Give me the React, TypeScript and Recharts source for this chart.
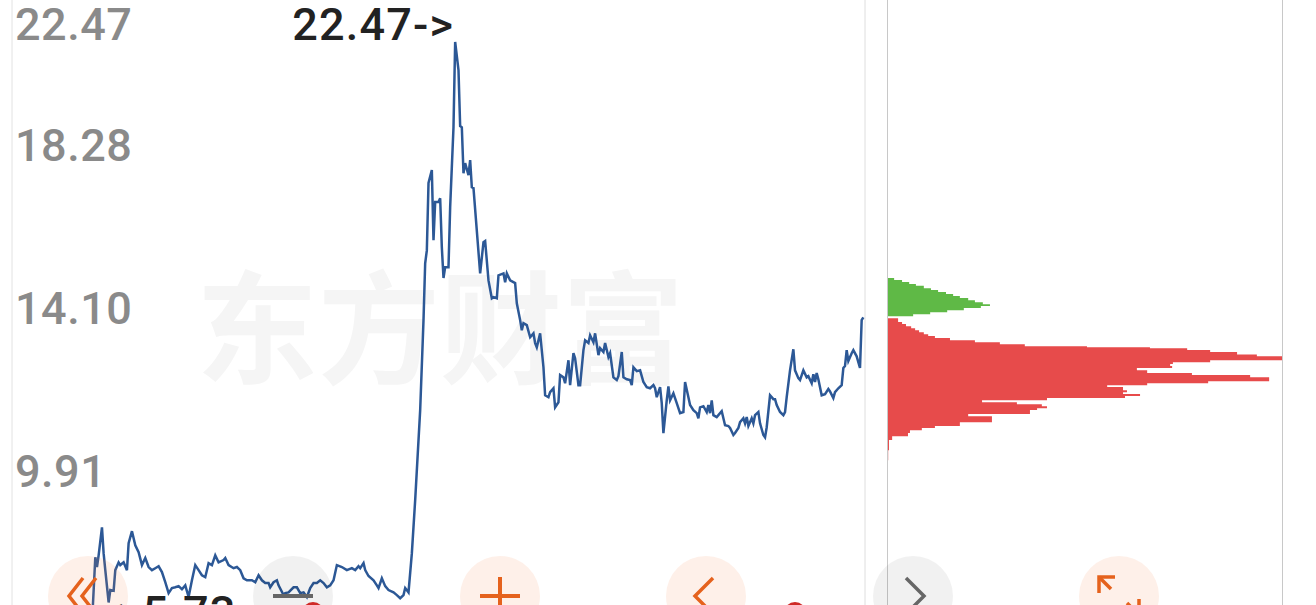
import React from 'react';
import {
  LineChart,
  Line,
  XAxis,
  YAxis,
  CartesianGrid,
  ReferenceLine,
  ReferenceDot,
  AreaChart,
  Area,
} from 'recharts';

// ---------- price line (trading-day number, close) ----------
const days = [
  0, 2, 3, 4, 6, 7, 8, 10, 11, 13, 14, 16, 17, 19, 21, 22, 24, 26, 28, 30,
  32, 34, 36, 38, 40, 42, 44, 46, 48, 50, 52, 54, 56, 58, 60, 62, 64, 66, 68, 70,
  72, 74, 76, 79, 80, 82, 85, 87, 89, 91, 93, 96, 98, 100, 102, 104, 106, 107, 109, 111,
  112, 115, 116, 118, 121, 123, 125, 127, 129, 131, 133, 135, 137, 139, 141, 143, 145, 147, 150, 153,
  156, 158, 160, 161, 163, 164, 166, 169, 171, 172, 174, 176, 178, 181, 183, 185, 187, 188, 190, 192,
  194, 197, 199, 200, 201, 202, 204, 205, 206, 208, 209, 210, 211, 212, 214, 215, 217, 218, 220, 221,
  222, 223, 224, 226, 227, 228, 229, 233, 235, 236, 238, 240, 241, 243, 244, 247, 248, 249, 251, 254,
  255, 257, 258, 259, 261, 263, 265, 266, 267, 269, 271, 272, 274, 275, 277, 278, 280, 281, 283, 284,
  286, 287, 289, 290, 292, 293, 295, 296, 298, 299, 301, 302, 304, 305, 307, 308, 310, 311, 313, 315,
  316, 318, 319, 321, 323, 324, 325, 327, 329, 331, 333, 335, 337, 338, 339, 341, 342, 343, 345, 346,
  347, 349, 351, 353, 355, 356, 358, 359, 361, 363, 364, 365, 367, 369, 370, 371, 372, 373, 375, 376,
  378, 379, 380, 382, 383, 385, 386, 388, 389, 391, 392, 393, 394, 396, 397, 398, 400, 401, 403, 404,
  405, 407, 409, 410, 411, 413, 415, 416, 417, 419, 421, 422, 424, 425, 427, 429, 430, 432, 433, 434,
  435, 436, 438, 440, 442, 443, 445, 446, 448, 450, 451, 452, 453, 454, 456, 457, 459, 461, 462, 463,
];

const closes = [
  6.4, 8.11, 7.86, 8.16, 8.88, 8.21, 7.78, 6.95, 7.27, 7.25, 7.78, 7.98, 7.91, 7.98, 7.78, 8.47, 8.78, 8.42, 8.24, 7.91,
  8.09, 7.86, 7.78, 7.83, 7.88, 7.73, 7.47, 7.19, 7.32, 7.34, 7.37, 7.29, 7.39, 7.09, 7.52, 7.91, 7.78, 7.65, 7.6, 7.96,
  7.91, 8.16, 7.98, 8.04, 8.09, 7.91, 7.83, 7.86, 7.78, 7.57, 7.52, 7.52, 7.47, 7.65, 7.52, 7.45, 7.45, 7.34, 7.47, 7.52,
  7.39, 7.14, 7.19, 7.21, 7.34, 7.34, 7.19, 7.21, 7.09, 7.32, 7.45, 7.45, 7.52, 7.45, 7.34, 7.39, 7.52, 7.91, 7.86, 7.78,
  7.83, 7.78, 7.88, 7.83, 7.96, 7.78, 7.63, 7.52, 7.39, 7.32, 7.57, 7.37, 7.27, 7.21, 7.14, 7.06, 7.14, 7.32, 7.21, 8.21,
  9.58, 11.89, 14.2, 15.66, 15.99, 17.72, 18.05, 16.25, 17.23, 17.23, 17.33, 16.07, 15.28, 15.56, 15.56, 17.1, 19.15, 21.34, 20.62, 19.18,
  19.15, 17.97, 18.23, 17.92, 18.31, 17.61, 17.59, 15.4, 16.2, 16.23, 15.22, 14.76, 14.79, 14.76, 15.35, 15.4, 15.17, 15.4, 15.22, 15.15,
  14.63, 14.2, 13.94, 14.12, 14.07, 13.76, 13.86, 13.61, 13.5, 13.86, 12.99, 12.27, 12.22, 12.35, 12.45, 11.96, 12.09, 12.79, 12.73, 12.58,
  13.17, 12.53, 13.35, 13.22, 12.53, 12.53, 13.43, 13.68, 13.61, 13.81, 13.63, 13.86, 13.3, 13.48, 13.38, 13.61, 13.25, 13.35, 12.73, 12.66,
  12.76, 13.38, 12.73, 12.68, 12.66, 12.53, 12.99, 12.89, 12.91, 12.61, 12.48, 12.45, 12.53, 12.45, 12.22, 12.48, 12.07, 11.3, 12.14, 12.5,
  12.14, 12.32, 12.07, 11.81, 11.84, 12.61, 12.22, 12.02, 11.89, 11.81, 11.68, 11.96, 11.99, 11.84, 12.02, 11.81, 12.14, 11.76, 11.71, 11.76,
  11.86, 11.68, 11.5, 11.48, 11.43, 11.25, 11.3, 11.43, 11.58, 11.68, 11.55, 11.71, 11.48, 11.68, 11.55, 11.76, 11.84, 11.55, 11.25, 11.19,
  11.45, 12.27, 12.17, 12.17, 12.02, 11.84, 11.76, 11.84, 12.22, 12.91, 13.45, 12.91, 12.71, 12.66, 12.91, 12.73, 12.76, 12.58, 12.81, 12.61,
  12.84, 12.68, 12.27, 12.3, 12.43, 12.37, 12.2, 12.35, 12.45, 12.53, 12.97, 13.02, 13.43, 13.15, 13.35, 13.43, 13.27, 12.97, 14.2, 14.27,
];

const priceTicks = [5.73, 9.91, 14.1, 18.28, 22.47];
const labelledTicks = [9.91, 14.1, 18.28, 22.47];
const PRICE_MIN = 5.73;
const PRICE_MAX = 22.47;
const DAY_DOMAIN: [number, number] = [-48, 464];

const highDay = 218;
const highLabel = '22.47->';
const lowDay = 6;
const lowLabel = '<-5.73';

// ---------- chip distribution (price level, share of volume %) ----------
const profitPrices = [
  15.33, 15.28, 15.23, 15.18, 15.13, 15.08, 15.02, 14.97, 14.92, 14.87, 14.82,
  14.77, 14.71, 14.66, 14.61, 14.56, 14.51, 14.45, 14.4, 14.35, 14.3,
];
const profitVolumes = [
  0, 1.8, 3.8, 5.6, 7.3, 9.3, 11.1, 12.9, 14.9, 16.7, 18.4,
  20.5, 22.2, 24.2, 26.0, 23.7, 19.4, 15.2, 10.9, 6.6, 2.3,
];
const lossPrices = [
  14.25, 14.2, 14.15, 14.1, 14.04, 13.99, 13.94, 13.89, 13.84, 13.79, 13.74, 13.68, 13.63, 13.58, 13.53, 13.5,
  13.48, 13.43, 13.38, 13.32, 13.27, 13.22, 13.17, 13.12, 13.07, 13.02, 12.97, 12.91, 12.84, 12.79, 12.73, 12.68,
  12.63, 12.58, 12.53, 12.48, 12.4, 12.35, 12.3, 12.25, 12.2, 12.14, 12.09, 12.04, 11.99, 11.94, 11.89, 11.84,
  11.79, 11.73, 11.68, 11.63, 11.58, 11.53, 11.48, 11.43, 11.37, 11.3, 11.22, 11.12, 10.86, 10.6,
];
const lossVolumes = [
  2.8, 2.8, 3.8, 4.8, 6.1, 7.1, 8.1, 9.3, 10.4, 12.1, 15.9, 22.2, 28.5, 34.8, 50.5, 66.4,
  75.8, 81.6, 88.4, 93.4, 100, 100, 81.6, 72.2, 71.5, 72.0, 63.1, 65.7, 77.0, 91.7, 96.5, 96.5,
  81.1, 65.7, 55.6, 59.6, 60.6, 59.6, 63.9, 60.1, 40.4, 24.0, 32.8, 39.1, 40.4, 37.9, 36.1, 36.1,
  20.5, 26.5, 26.5, 26.5, 18.4, 18.4, 12.1, 8.8, 5.8, 5.3, 1.3, 0.5, 0.3, 0,
];

const watermark = '东方财富';

const lineData = days.map((d, i) => ({ day: d, close: closes[i] }));
const chipData = [
  ...profitPrices.map((p, i) => ({ price: p, profit: profitVolumes[i], loss: null as number | null })),
  ...lossPrices.map((p, i) => ({ price: p, profit: null as number | null, loss: lossVolumes[i] })),
];

const FONT = 'Roboto, "Noto Sans", sans-serif';

const makeTickLabel = (value: number) => (props: any) => {
  const isTop = value === PRICE_MAX;
  return (
    <text
      x={15}
      y={isTop ? props.cy + 42 : props.cy}
      fill="#8a8a8a"
      fontSize={45}
      fontWeight={500}
      letterSpacing={0.5}
      fontFamily={FONT}
      textAnchor="start"
    >
      {value.toFixed(2)}
    </text>
  );
};

const HighMark = (props: any) => (
  <text
    x={props.cx - 1}
    y={props.cy + 42}
    textAnchor="end"
    fill="#222"
    fontSize={45}
    fontWeight={500}
    letterSpacing={1.2}
    fontFamily={FONT}
  >
    {highLabel}
  </text>
);

const LowMark = (props: any) => (
  <text
    x={props.cx}
    y={props.cy - 22}
    textAnchor="start"
    fill="#222"
    fontSize={45}
    fontWeight={500}
    letterSpacing={1.2}
    fontFamily={FONT}
  >
    {lowLabel}
  </text>
);

const ORANGE = '#e5621d';
const GRAY_ICON = '#666';
const buttons = [
  { cx: 88, tone: 'orange', icon: 'rewind' },
  { cx: 293, tone: 'gray', icon: 'minus' },
  { cx: 500, tone: 'orange', icon: 'plus' },
  { cx: 706, tone: 'orange', icon: 'prev' },
  { cx: 913, tone: 'gray', icon: 'next' },
  { cx: 1119, tone: 'orange', icon: 'expand' },
];

const Icon = ({ cx, cy, icon }: { cx: number; cy: number; icon: string }) => {
  const common = { fill: 'none', strokeWidth: 3.5, strokeLinecap: 'butt' as const, strokeLinejoin: 'miter' as const };
  switch (icon) {
    case 'rewind':
      return (
        <g stroke={ORANGE} {...common}>
          <polyline points={`${cx - 5},${cy - 18} ${cx - 19},${cy} ${cx - 5},${cy + 18}`} />
          <polyline points={`${cx + 8},${cy - 18} ${cx - 6},${cy} ${cx + 8},${cy + 18}`} />
        </g>
      );
    case 'minus':
      return <line x1={cx - 20} y1={cy} x2={cx + 20} y2={cy} stroke={GRAY_ICON} strokeWidth={4} />;
    case 'plus':
      return (
        <g stroke={ORANGE} strokeWidth={4}>
          <line x1={cx - 20} y1={cy} x2={cx + 20} y2={cy} />
          <line x1={cx} y1={cy - 19} x2={cx} y2={cy + 19} />
        </g>
      );
    case 'prev':
      return <polyline points={`${cx + 7},${cy - 18} ${cx - 11},${cy} ${cx + 7},${cy + 18}`} stroke={ORANGE} {...common} />;
    case 'next':
      return <polyline points={`${cx - 7},${cy - 18} ${cx + 11},${cy} ${cx - 7},${cy + 18}`} stroke={GRAY_ICON} {...common} />;
    case 'expand':
      return (
        <g stroke={ORANGE} {...common}>
          <polyline points={`${cx - 20},${cy - 3} ${cx - 20},${cy - 19} ${cx - 4},${cy - 19}`} />
          <line x1={cx - 20} y1={cy - 19} x2={cx - 8} y2={cy - 7} />
          <polyline points={`${cx + 20},${cy + 3} ${cx + 20},${cy + 19} ${cx + 4},${cy + 19}`} />
          <line x1={cx + 20} y1={cy + 19} x2={cx + 8} y2={cy + 7} />
        </g>
      );
    default:
      return null;
  }
};

export default function App() {
  const btnCy = 596;
  return (
    <div
      style={{
        position: 'absolute',
        left: 0,
        top: 0,
        width: 1316,
        height: 605,
        overflow: 'hidden',
        background: '#ffffff',
      }}
    >
      {/* watermark */}
      <svg width={1316} height={605} style={{ position: 'absolute', left: 0, top: 0 }}>
        <text
          x={440}
          y={374}
          textAnchor="middle"
          fontSize={122}
          fontWeight={700}
          fontFamily='"Noto Sans CJK SC", sans-serif'
          fill="#f5f5f5"
        >
          {watermark}
        </text>
      </svg>

      {/* main price line */}
      <div style={{ position: 'absolute', left: 0, top: -2 }}>
        <LineChart
          width={1316}
          height={660}
          data={lineData}
          margin={{ top: 0, right: 451, bottom: 8, left: 12 }}
        >
          <CartesianGrid horizontal vertical={false} stroke="#cccccc" strokeDasharray="2 2" />
          <XAxis type="number" dataKey="day" domain={DAY_DOMAIN} hide allowDataOverflow />
          <YAxis
            type="number"
            domain={[PRICE_MIN, PRICE_MAX]}
            ticks={priceTicks}
            interval={0}
            width={0}
            axisLine={false}
            tickLine={false}
            tick={false}
            allowDataOverflow
          />
          <ReferenceLine x={DAY_DOMAIN[0]} stroke="#e2e2e2" strokeWidth={1} />
          <ReferenceLine x={DAY_DOMAIN[1]} stroke="#dedede" strokeWidth={1} />
          {labelledTicks.map((v) => (
            <ReferenceDot key={v} x={DAY_DOMAIN[0]} y={v} r={1} shape={makeTickLabel(v)} />
          ))}
          <Line
            type="linear"
            dataKey="close"
            stroke="#2c5896"
            strokeWidth={2.5}
            dot={false}
            isAnimationActive={false}
          />
          <ReferenceDot x={highDay} y={PRICE_MAX} r={1} shape={HighMark} />
          <ReferenceDot x={lowDay} y={PRICE_MIN} r={1} shape={LowMark} />
        </LineChart>
      </div>

      {/* chip distribution */}
      <div style={{ position: 'absolute', left: 887, top: -2 }}>
        <AreaChart
          layout="vertical"
          width={396}
          height={660}
          data={chipData}
          margin={{ top: 0, right: 0, bottom: 8, left: 0 }}
        >
          <XAxis type="number" domain={[0, 100]} hide />
          <YAxis type="number" dataKey="price" domain={[PRICE_MIN, PRICE_MAX]} reversed hide />
          <Area
            type="stepBefore"
            dataKey="profit"
            stroke="none"
            fill="#5fb946"
            fillOpacity={1}
            isAnimationActive={false}
          />
          <Area
            type="stepBefore"
            dataKey="loss"
            stroke="none"
            fill="#e74b4b"
            fillOpacity={1}
            isAnimationActive={false}
          />
          <ReferenceLine x={0} stroke="#c8c8c8" strokeWidth={2} />
          <ReferenceLine x={100} stroke="#c8c8c8" strokeWidth={2} />
        </AreaChart>
      </div>

      {/* bottom toolbar overlay */}
      <svg width={1316} height={605} style={{ position: 'absolute', left: 0, top: 0, pointerEvents: 'none' }}>
        {buttons.map((b) => (
          <g key={b.cx}>
            <circle
              cx={b.cx}
              cy={btnCy}
              r={40}
              fill={b.tone === 'orange' ? 'rgba(245,130,70,0.12)' : 'rgba(0,0,0,0.055)'}
            />
            <Icon cx={b.cx} cy={btnCy} icon={b.icon} />
          </g>
        ))}
        <circle cx={313} cy={613} r={11} fill="#cf2a27" />
        <circle cx={795} cy={613} r={11} fill="#cf2a27" />
      </svg>
    </div>
  );
}
